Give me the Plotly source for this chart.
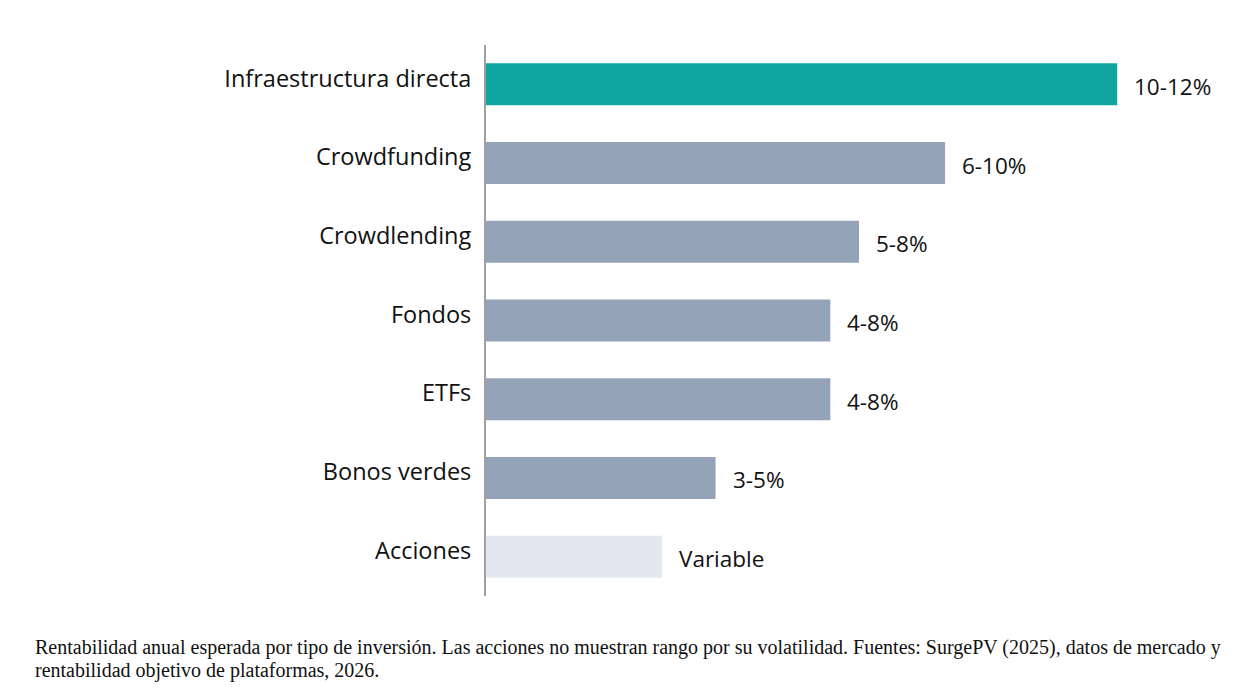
import plotly.graph_objects as go

categories = ["Infraestructura directa", "Crowdfunding", "Crowdlending", "Fondos", "ETFs", "Bonos verdes", "Acciones"]
values = [11, 8, 6.5, 6, 6, 4, 3.07]
value_labels = ["10-12%", "6-10%", "5-8%", "4-8%", "4-8%", "3-5%", "Variable"]
colors = ["#10a6a0", "#94a3b8", "#94a3b8", "#94a3b8", "#94a3b8", "#94a3b8", "#e2e8f0"]
caption_lines = [
    "Rentabilidad anual esperada por tipo de inversión. Las acciones no muestran rango por su volatilidad. "
    "Fuentes: SurgePV (2025), datos de mercado y",
    "rentabilidad objetivo de plataformas, 2026.",
]

W, H = 1257, 696
ml, mr, mt, mb = 486, 25, 45, 100
pw = W - ml - mr
ph = H - mt - mb

fig = go.Figure(go.Bar(
    x=values, y=categories, orientation="h",
    marker=dict(color=colors, line=dict(width=0)),
    width=0.534, hoverinfo="skip",
))

for c, v, t in zip(categories, values, value_labels):
    fig.add_annotation(x=v, y=c, text=t, showarrow=False, xanchor="left",
                       xshift=15, yshift=-2,
                       font=dict(family="Open Sans", size=22.5, color="#111111"))

for i, line in enumerate(caption_lines):
    fig.add_annotation(xref="paper", yref="paper", x=(33 - ml) / pw,
                       y=-(634 + 23 * i - (mt + ph)) / ph,
                       xanchor="left", yanchor="top", align="left", showarrow=False,
                       text=line, font=dict(family="Liberation Serif", size=20, color="#111111"))

fig.update_layout(
    width=W, height=H,
    margin=dict(l=ml, r=mr, t=mt, b=mb),
    paper_bgcolor="white", plot_bgcolor="white",
    showlegend=False,
    xaxis=dict(range=[0, 13], visible=False, fixedrange=True),
    yaxis=dict(autorange="reversed", showline=True, linecolor="#a0a0a0", linewidth=2,
               showgrid=False, zeroline=False, ticks="",
               tickfont=dict(family="Open Sans", size=23.5, color="#111111"),
               ticklabelstandoff=8, ticklabelshift=6),
)

fig.write_html("out.html")
